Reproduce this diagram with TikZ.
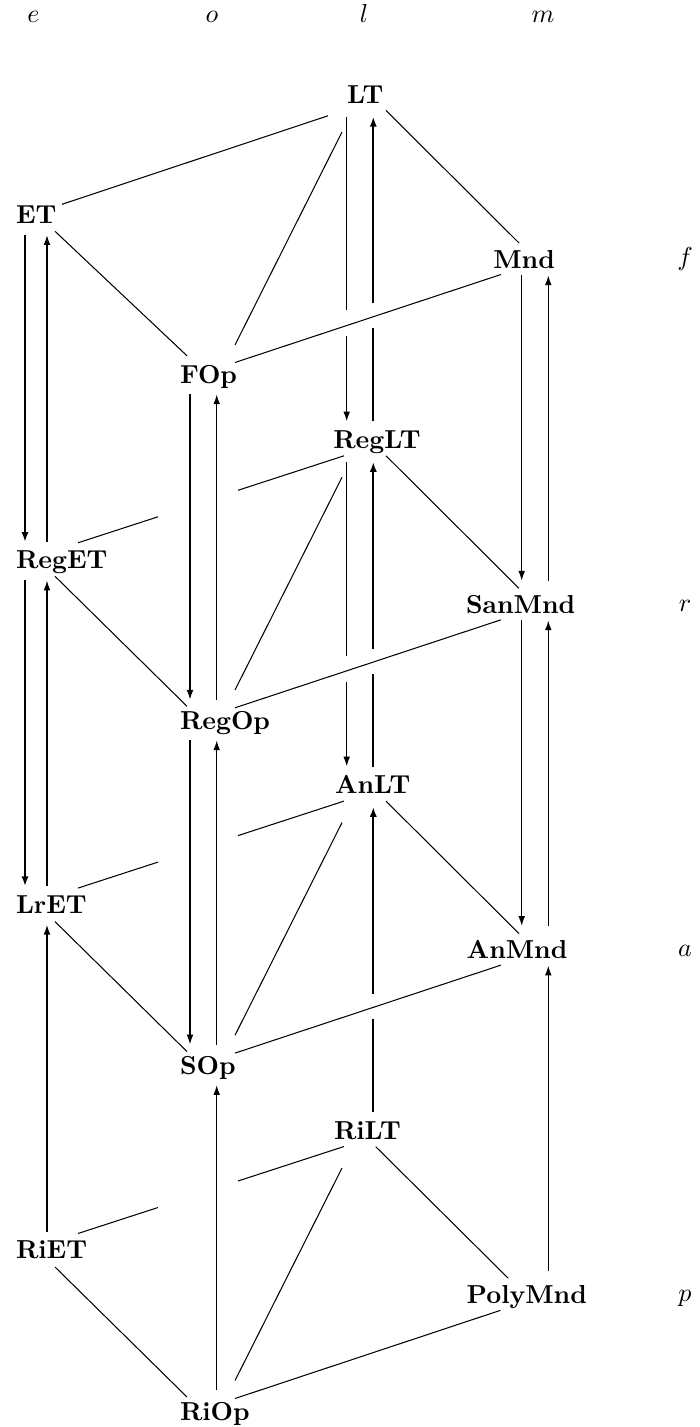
\documentclass[tikz,border=0pt]{standalone}
\usetikzlibrary{arrows.meta,calc}
\begin{document}
\begin{tikzpicture}[x=0.385pt,y=-0.385pt,
  lbl/.style={inner sep=0pt,outer sep=0pt,anchor=base west,font=\bfseries},
  axl/.style={inner sep=0pt,outer sep=0pt,anchor=base},
  edge/.style={line width=0.4pt},
  seg/.style={line width=0.55pt},
  segthick/.style={line width=0.9pt},
  arr/.style={line width=0.55pt,-{Latex[length=3.8pt,width=2.6pt]}},
  arrthick/.style={line width=0.9pt,-{Latex[length=3.8pt,width=2.8pt]}}]

\path[use as bounding box] (0,0) rectangle (699,1427);

% column positions of the vertical arrows
\coordinate (eL) at (25,0);    \coordinate (eR) at (47,0);
\coordinate (oL) at (190,0);   \coordinate (oR) at (216.7,0);
\coordinate (lL) at (346.7,0); \coordinate (lR) at (373.3,0);
\coordinate (mL) at (521.7,0); \coordinate (mR) at (548.3,0);

% axis labels
\node[axl] (ae) at (33.5,22.5) {$e$};
\node[axl] (ao) at (212,22.5) {$o$};
\node[axl] (al) at (364,22.5) {$l$};
\node[axl] (am) at (543,22.5) {$m$};
\node[axl] (af) at (685,266) {$f$};
\node[axl] (ar) at (685,611) {$r$};
\node[axl] (aa) at (685,956) {$a$};
\node[axl] (ap) at (685,1301) {$p$};

% nodes
\node[lbl] (LT)      at (347,103.3)  {LT};
\node[lbl] (ET)      at (16,223.3)   {ET};
\node[lbl] (Mnd)     at (493.3,268.3) {Mnd};
\node[lbl] (FOp)     at (180,383.8)  {FOp};

\node[lbl] (RegLT)   at (333.3,448.5) {RegLT};
\node[lbl] (RegET)   at (16,568.7)   {RegET};
\node[lbl] (SanMnd)  at (466,613.3)  {SanMnd};
\node[lbl] (RegOp)   at (180,729.8)  {RegOp};

\node[lbl] (AnLT)    at (335,793.5)  {AnLT};
\node[lbl] (LrET)    at (16,913)     {LrET};
\node[lbl] (AnMnd)   at (466.7,958.5) {AnMnd};
\node[lbl] (SOp)     at (180,1074.5) {SOp};

\node[lbl] (RiLT)    at (334,1139.2) {RiLT};
\node[lbl] (RiET)    at (16,1258.5)  {RiET};
\node[lbl] (PolyMnd) at (466.7,1303.5) {PolyMnd};
\node[lbl] (RiOp)    at (180,1420)   {RiOp};

% ---------- row f faces
\draw[edge] ($(ET.base west)+(46,-19)$) -- ($(LT.base west)+(-19,12.5)$);
\draw[edge] ($(ET.base west)+(39,8)$) -- ($(FOp.base west)+(7,-28)$);
\draw[edge] ($(FOp.base west)+(55,-38.8)$) -- ($(LT.base west)+(-5,28.7)$);
\draw[edge] ($(FOp.base west)+(55,-21.3)$) -- ($(Mnd.base west)+(7.7,6.2)$);
\draw[edge] ($(LT.base west)+(39,7.2)$) -- ($(Mnd.base west)+(25.7,-25.3)$);

% ---------- row r faces
\draw[edge] ($(RegET.base west)+(62,-25.9)$) -- ($(RegET.base west)+(142,-51.9)$);
\draw[edge] ($(RegLT.base west)+(-95.3,41.8)$) -- ($(RegLT.base west)+(10.7,7.3)$);
\draw[edge] ($(RegET.base west)+(39,7.6)$) -- ($(RegOp.base west)+(7,-23.5)$);
\draw[edge] ($(RegOp.base west)+(55,-39.8)$) -- ($(RegLT.base west)+(8.7,28.8)$);
\draw[edge] ($(RegOp.base west)+(55,-22)$) -- ($(SanMnd.base west)+(35,6.5)$);
\draw[edge] ($(RegLT.base west)+(52.7,7.3)$) -- ($(SanMnd.base west)+(53,-25)$);

% ---------- row a faces
\draw[edge] ($(LrET.base west)+(62,-24.9)$) -- ($(LrET.base west)+(142,-50.9)$);
\draw[edge] ($(AnLT.base west)+(-97,42.1)$) -- ($(AnLT.base west)+(9,7.6)$);
\draw[edge] ($(LrET.base west)+(39,8.6)$) -- ($(SOp.base west)+(7,-22.9)$);
\draw[edge] ($(SOp.base west)+(55,-39.2)$) -- ($(AnLT.base west)+(7,29.1)$);
\draw[edge] ($(SOp.base west)+(55,-21.4)$) -- ($(AnMnd.base west)+(34.3,6.6)$);
\draw[edge] ($(AnLT.base west)+(51,7.6)$) -- ($(AnMnd.base west)+(52.3,-24.9)$);

% ---------- row p faces
\draw[edge] ($(RiET.base west)+(62,-25)$) -- ($(RiET.base west)+(142,-51)$);
\draw[edge] ($(RiLT.base west)+(-96,41.8)$) -- ($(RiLT.base west)+(10,7.3)$);
\draw[edge] ($(RiET.base west)+(39,8.5)$) -- ($(RiOp.base west)+(7,-23)$);
\draw[edge] ($(RiOp.base west)+(55,-39.5)$) -- ($(RiLT.base west)+(8,28.8)$);
\draw[edge] ($(RiOp.base west)+(55,-21.5)$) -- ($(PolyMnd.base west)+(33.8,6.8)$);
\draw[edge] ($(RiLT.base west)+(41.7,7.5)$) -- ($(PolyMnd.base west)+(41.6,-25.2)$);

% ---------- e column
\draw[arrthick] ($(ET.base -| eL)+(0,11.7)$) -- ($(RegET.base -| eL)+(0,-26.8)$);
\draw[arr] ($(RegET.base -| eR)+(0,-26.8)$) -- ($(ET.base -| eR)+(0,11.7)$);
\draw[arrthick] ($(RegET.base -| eL)+(0,11.7)$) -- ($(LrET.base -| eL)+(0,-26.8)$);
\draw[arr] ($(LrET.base -| eR)+(0,-26.8)$) -- ($(RegET.base -| eR)+(0,11.7)$);
\draw[arr] ($(RiET.base -| eR)+(0,-26.8)$) -- ($(LrET.base -| eR)+(0,11.7)$);

% ---------- o column
\draw[arr] ($(FOp.base -| oL)+(0,10.5)$) -- ($(RegOp.base -| oL)+(0,-30)$);
\draw[arr] ($(RegOp.base -| oR)+(0,-30)$) -- ($(FOp.base -| oR)+(0,10.5)$);
\draw[arr] ($(RegOp.base -| oL)+(0,10.5)$) -- ($(SOp.base -| oL)+(0,-30)$);
\draw[arr] ($(SOp.base -| oR)+(0,-30)$) -- ($(RegOp.base -| oR)+(0,10.5)$);
\draw[arr] ($(RiOp.base -| oR)+(0,-30)$) -- ($(SOp.base -| oR)+(0,10.5)$);

% ---------- l column (broken where the o--m lines pass over)
\draw[seg] ($(LT.base -| lL)+(0,13.5)$) -- ($(LT.base -| lL)+(0,207)$);
\draw[arr] ($(LT.base -| lL)+(0,233)$) -- ($(RegLT.base -| lL)+(0,-27)$);
\draw[segthick] ($(RegLT.base -| lR)+(0,-27)$) -- ($(LT.base -| lR)+(0,225)$);
\draw[arrthick] ($(LT.base -| lR)+(0,200)$) -- ($(LT.base -| lR)+(0,13.5)$);

\draw[seg] ($(RegLT.base -| lL)+(0,13.5)$) -- ($(RegLT.base -| lL)+(0,207)$);
\draw[arr] ($(RegLT.base -| lL)+(0,233)$) -- ($(AnLT.base -| lL)+(0,-27)$);
\draw[segthick] ($(AnLT.base -| lR)+(0,-27)$) -- ($(RegLT.base -| lR)+(0,225)$);
\draw[arrthick] ($(RegLT.base -| lR)+(0,200)$) -- ($(RegLT.base -| lR)+(0,13.5)$);

\draw[segthick] ($(RiLT.base -| lR)+(0,-27)$) -- ($(AnLT.base -| lR)+(0,225)$);
\draw[arrthick] ($(AnLT.base -| lR)+(0,200)$) -- ($(AnLT.base -| lR)+(0,13.5)$);

% ---------- m column
\draw[arr] ($(Mnd.base -| mL)+(0,7)$) -- ($(SanMnd.base -| mL)+(0,-32.5)$);
\draw[arr] ($(SanMnd.base -| mR)+(0,-32.5)$) -- ($(Mnd.base -| mR)+(0,7)$);
\draw[arr] ($(SanMnd.base -| mL)+(0,7)$) -- ($(AnMnd.base -| mL)+(0,-32.5)$);
\draw[arr] ($(AnMnd.base -| mR)+(0,-32.5)$) -- ($(SanMnd.base -| mR)+(0,7)$);
\draw[arr] ($(PolyMnd.base -| mR)+(0,-32.5)$) -- ($(AnMnd.base -| mR)+(0,7)$);
\end{tikzpicture}
\end{document}
